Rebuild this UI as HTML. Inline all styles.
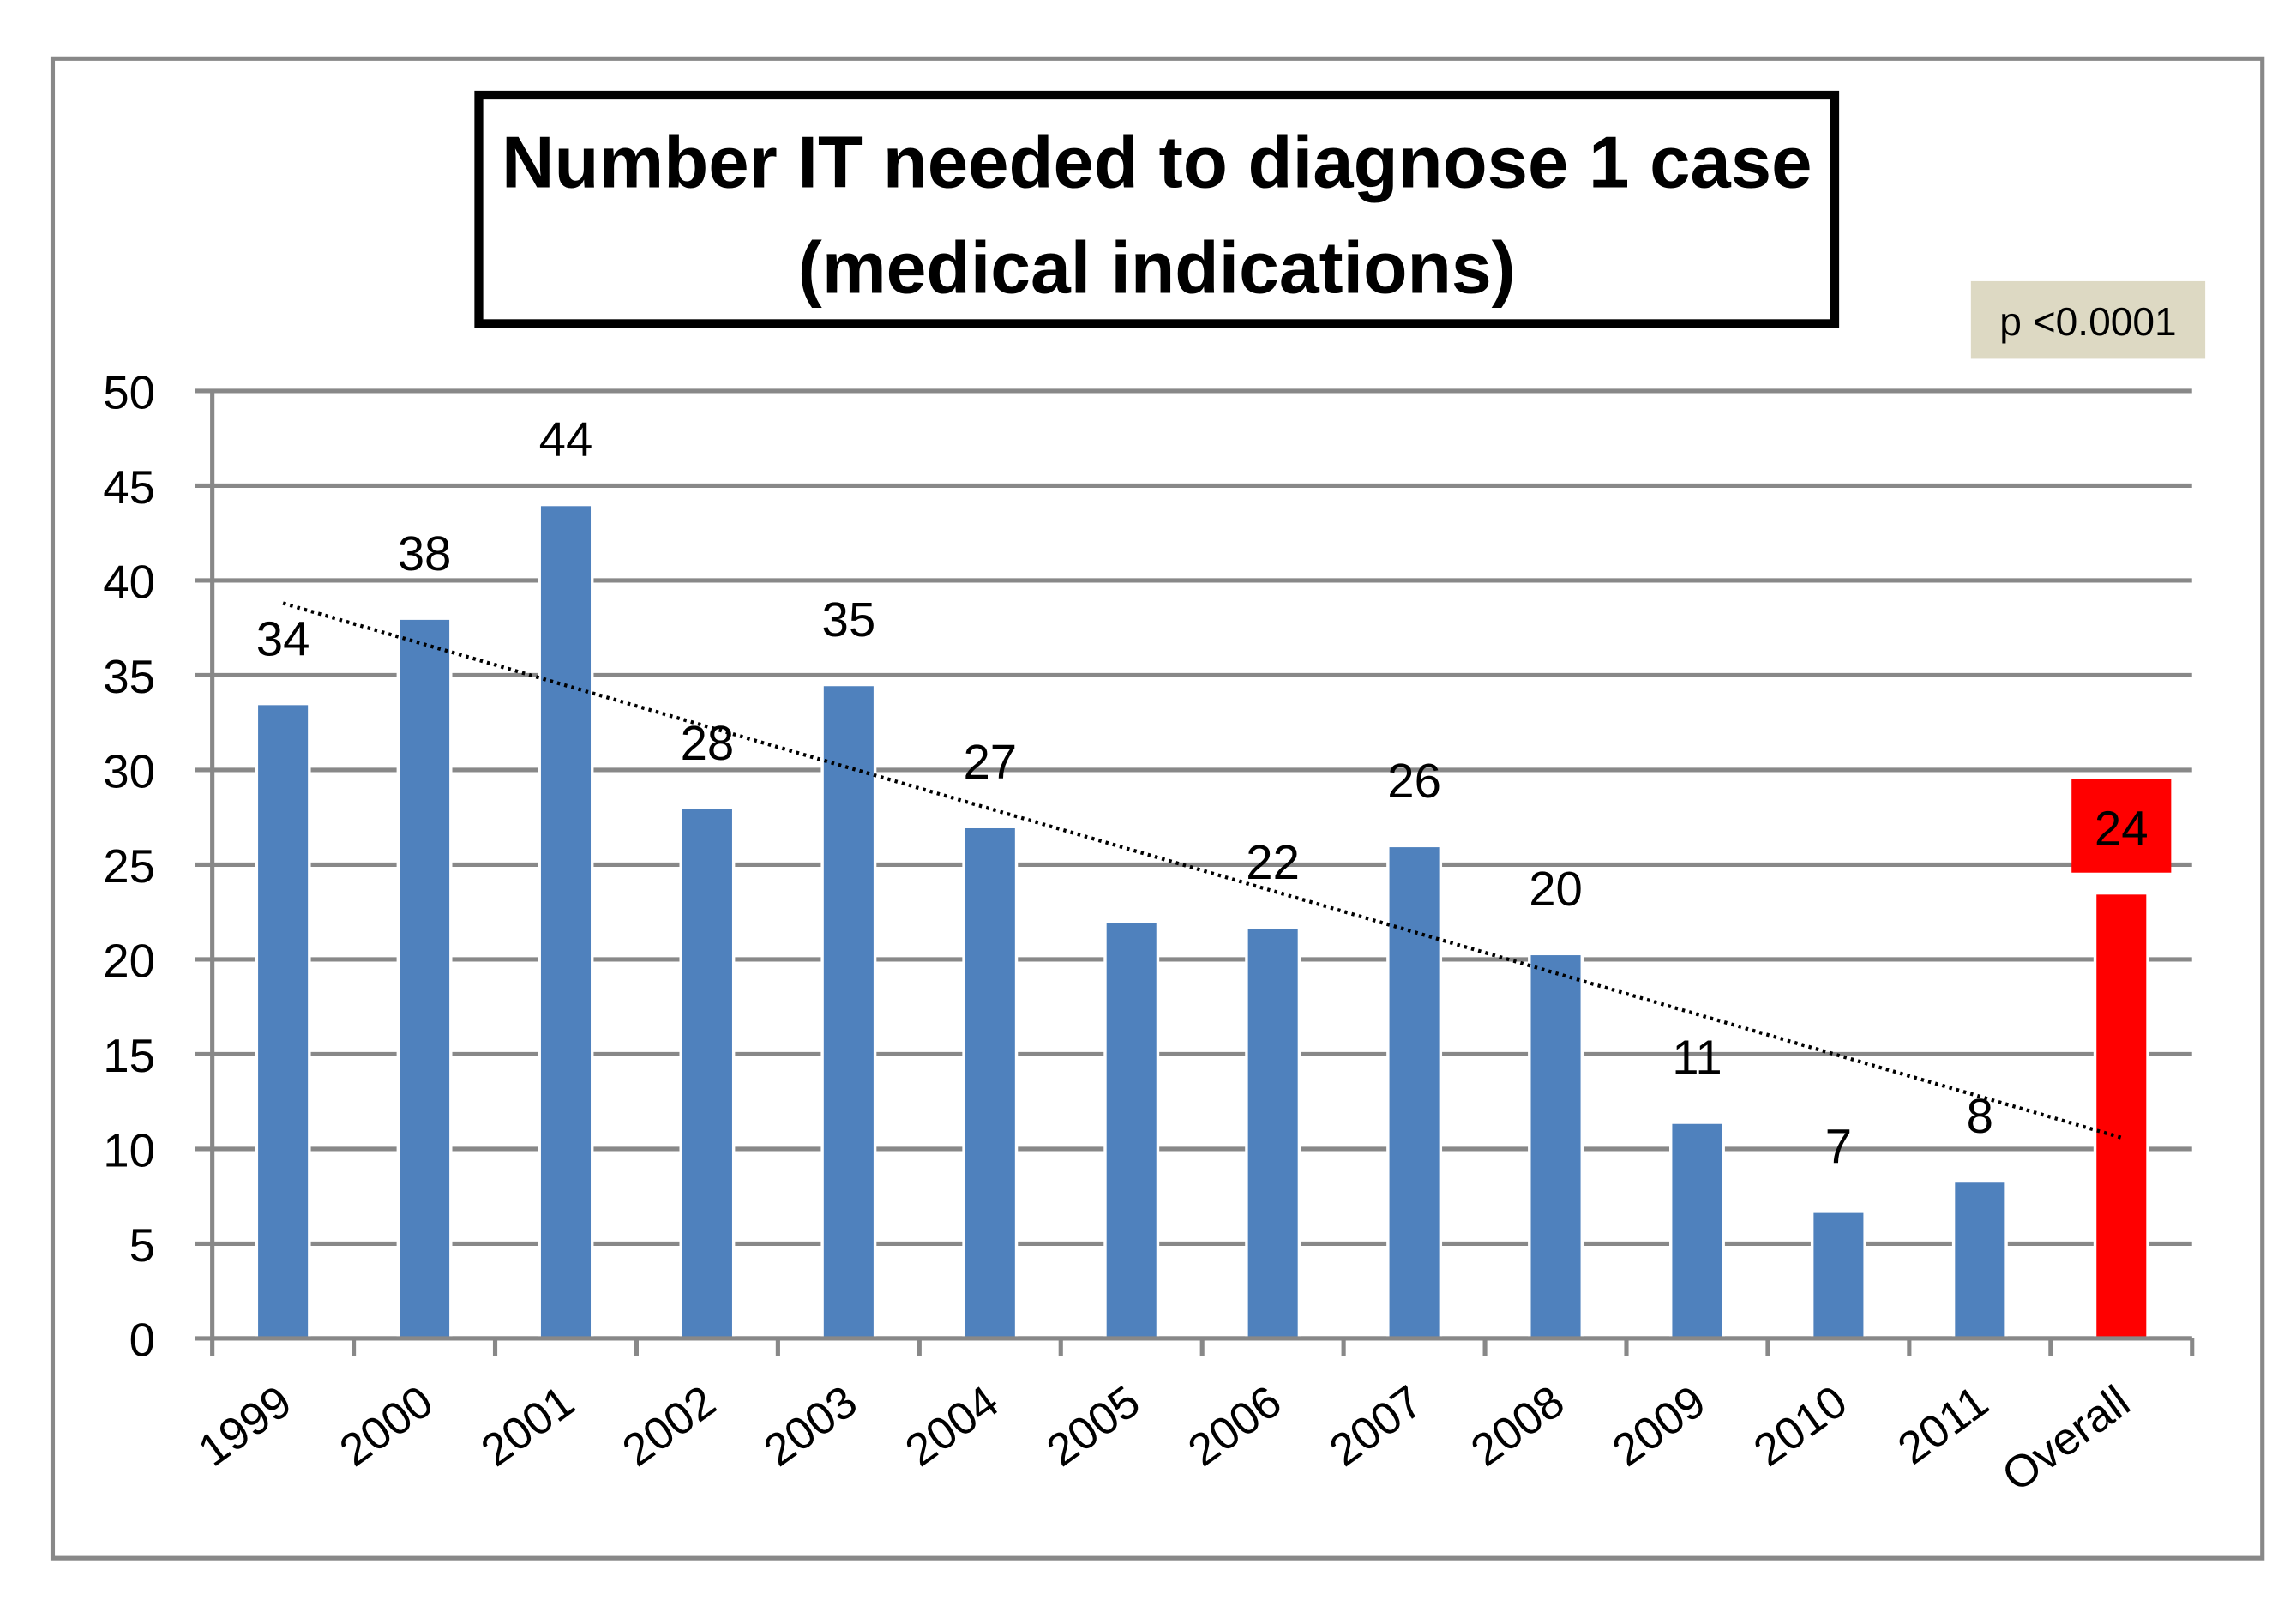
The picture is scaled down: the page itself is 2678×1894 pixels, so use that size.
<!DOCTYPE html>
<html><head><meta charset="utf-8"><style>html,body{margin:0;padding:0;background:#fff}svg{display:block}text{font-family:"Liberation Sans",sans-serif}</style></head>
<body>
<svg id="chart" width="2678" height="1894" viewBox="0 0 1568 1109" preserveAspectRatio="none" xmlns="http://www.w3.org/2000/svg">
<rect x="36" y="40" width="1509" height="1024" fill="#fff" stroke="#888" stroke-width="3"/>
<rect x="327" y="65" width="926" height="156" fill="#fff" stroke="#000" stroke-width="6"/>
<text x="790" y="128" text-anchor="middle" font-size="50" font-weight="bold" textLength="895" lengthAdjust="spacingAndGlyphs">Number IT needed to diagnose 1 case</text>
<text x="790" y="200" text-anchor="middle" font-size="50" font-weight="bold" textLength="490" lengthAdjust="spacingAndGlyphs">(medical indications)</text>
<rect x="1346" y="192" width="160" height="53" fill="#ddd9c3"/>
<text x="1426" y="229" text-anchor="middle" font-size="27">p &lt;0.0001</text>
<g id="grid"></g><g id="bars"></g><g id="labels"></g><g id="axes"></g>
</svg>
<script>
const categories = ["1999","2000","2001","2002","2003","2004","2005","2006","2007","2008","2009","2010","2011","Overall"];
const values = [33.5,38,44,28,34.5,27,22,21.7,26,20.3,11.4,6.7,8.3,23.5];
const valueLabels = ["34","38","44","28","35","27","","22","26","20","11","7","8","24"];
const yTicks = [0,5,10,15,20,25,30,35,40,45,50];
const trendValues = [38.8,10.6];
const NS="http://www.w3.org/2000/svg";
const X0=145,X1=1497,Y0=914,Y50=267;
const bw=(X1-X0)/categories.length;
const y=v=>Y0-(v/50)*(Y0-Y50);
const xc=i=>X0+bw*(i+0.5);
function mk(tag,attrs,parent,txt){const e=document.createElementNS(NS,tag);for(const k in attrs)e.setAttribute(k,attrs[k]);if(txt!==undefined)e.textContent=txt;document.getElementById(parent).appendChild(e);return e;}
yTicks.forEach(t=>{
  const g=mk('line',{x1:X0-12,x2:X1,y1:y(t),y2:y(t),stroke:'#888','stroke-width':3},'grid');
  
  
  const l=mk('text',{x:106,y:y(t)+12,'text-anchor':'end','font-size':32},'axes',String(t));
  
  
});
const ax=mk('line',{x1:X0,x2:X0,y1:Y50,y2:Y0,stroke:'#888','stroke-width':3},'axes');


const xa=mk('line',{x1:X0,x2:X1,y1:Y0,y2:Y0,stroke:'#888','stroke-width':3},'axes');


for(let i=0;i<=categories.length;i++){
  const t=mk('line',{x1:X0+bw*i,x2:X0+bw*i,y1:Y0,y2:Y0+12,stroke:'#888','stroke-width':3},'axes');
  
  
}
categories.forEach((c,i)=>{
  const last=i===categories.length-1;
  const r=mk('rect',{x:xc(i)-18,y:y(values[i]),width:36,height:Y0-y(values[i]),fill:last?'#ff0000':'#4f81bd',stroke:'#fff','stroke-width':2},'bars');
  
  
  const tx=xc(i)+8, ty=y(0)+48;
  const tl=mk('text',{x:tx,y:ty,'text-anchor':'end','font-size':31,transform:`rotate(-36 ${tx} ${ty})`},'axes',c);
  
  
  if(valueLabels[i]){
    if(last){
      const b=mk('rect',{x:xc(i)-34,y:y(values[i])-78,width:68,height:64,fill:'#ff0000'},'labels');
      
      
    }
    const v=mk('text',{x:xc(i),y:y(values[i])-33,'text-anchor':'middle','font-size':33},'labels',valueLabels[i]);
    
    
  }
});
const tr=mk('line',{x1:xc(0),y1:y(trendValues[0]),x2:xc(categories.length-1),y2:y(trendValues[1]),stroke:'#000','stroke-width':2.5,'stroke-dasharray':'2 3'},'labels');


</script>
</body></html>
